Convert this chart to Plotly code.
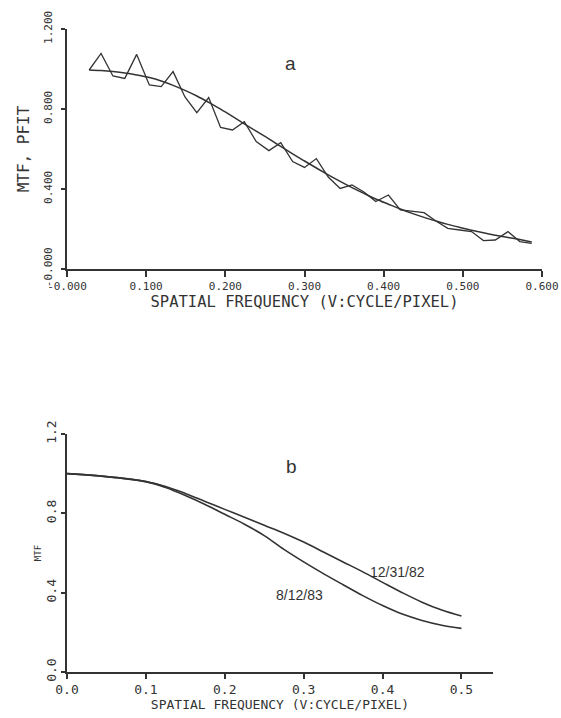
import plotly.graph_objects as go

# ---- Panel a data: measured MTF (noisy) and polynomial fit (PFIT)
freq_a = [0.028, 0.043, 0.058, 0.073, 0.088, 0.104, 0.119, 0.134, 0.149, 0.164,
          0.179, 0.194, 0.209, 0.224, 0.239, 0.255, 0.270, 0.285, 0.300, 0.315,
          0.330, 0.345, 0.360, 0.375, 0.390, 0.406, 0.421, 0.436, 0.451, 0.466,
          0.481, 0.496, 0.511, 0.526, 0.541, 0.557, 0.572, 0.587]
mtf_a = [0.995, 1.078, 0.965, 0.953, 1.073, 0.920, 0.912, 0.987, 0.860, 0.782,
         0.857, 0.708, 0.695, 0.737, 0.637, 0.592, 0.632, 0.537, 0.508, 0.552,
         0.460, 0.403, 0.420, 0.385, 0.337, 0.370, 0.295, 0.288, 0.282, 0.240,
         0.203, 0.195, 0.187, 0.142, 0.145, 0.187, 0.137, 0.128]
pfit_a = [0.995, 0.992, 0.987, 0.980, 0.970, 0.957, 0.940, 0.918, 0.893, 0.865,
          0.833, 0.799, 0.763, 0.726, 0.689, 0.651, 0.613, 0.576, 0.540, 0.505,
          0.471, 0.438, 0.407, 0.378, 0.350, 0.324, 0.300, 0.278, 0.258, 0.240,
          0.223, 0.208, 0.194, 0.181, 0.169, 0.158, 0.147, 0.135]

# ---- Panel b data: MTF curves for two dates
freq_b = [0.0, 0.05, 0.1, 0.125, 0.15, 0.175, 0.2, 0.225, 0.25, 0.275,
          0.3, 0.325, 0.35, 0.375, 0.4, 0.425, 0.45, 0.475, 0.5]
mtf_821231 = [1.0, 0.985, 0.96, 0.935, 0.90, 0.86, 0.82, 0.78, 0.74, 0.70,
              0.655, 0.605, 0.555, 0.505, 0.452, 0.400, 0.352, 0.312, 0.282]
mtf_830812 = [1.0, 0.985, 0.96, 0.930, 0.89, 0.845, 0.795, 0.745, 0.688, 0.618,
              0.555, 0.496, 0.440, 0.385, 0.335, 0.292, 0.260, 0.236, 0.220]

ticks_a_x = [0.0, 0.1, 0.2, 0.3, 0.4, 0.5, 0.6]
ticks_a_x_text = ["-0.000", "0.100", "0.200", "0.300", "0.400", "0.500", "0.600"]
ticks_a_y = [0.0, 0.4, 0.8, 1.2]
ticks_a_y_text = ["-0.000", "0.400", "0.800", "1.200"]
ticks_b_x = [0.0, 0.1, 0.2, 0.3, 0.4, 0.5]
ticks_b_x_text = ["0.0", "0.1", "0.2", "0.3", "0.4", "0.5"]
ticks_b_y = [0.0, 0.4, 0.8, 1.2]
ticks_b_y_text = ["0.0", "0.4", "0.8", "1.2"]

W, H = 561, 718
ML, MR, MT, MB = 67, 19, 29, 46
IW, IH = W - ML - MR, H - MT - MB
INK = "#333333"
MONO = "DejaVu Sans Mono"


def dx(p):
    return (p - ML) / IW


def dy(p):
    return (H - MB - p) / IH


fig = go.Figure()
fig.add_trace(go.Scatter(x=freq_a, y=mtf_a, mode="lines", name="MTF",
                         line=dict(color=INK, width=1.3), xaxis="x", yaxis="y"))
fig.add_trace(go.Scatter(x=freq_a, y=pfit_a, mode="lines", name="PFIT",
                         line=dict(color=INK, width=1.5, shape="spline"),
                         xaxis="x", yaxis="y"))
fig.add_trace(go.Scatter(x=freq_b, y=mtf_821231, mode="lines", name="12/31/82",
                         line=dict(color=INK, width=1.6, shape="spline"),
                         xaxis="x2", yaxis="y2"))
fig.add_trace(go.Scatter(x=freq_b, y=mtf_830812, mode="lines", name="8/12/83",
                         line=dict(color=INK, width=1.6, shape="spline"),
                         xaxis="x2", yaxis="y2"))

common = dict(showgrid=False, zeroline=False, showline=True, linecolor=INK,
              linewidth=1.5, ticks="outside", tickcolor=INK, tickwidth=1.5,
              automargin=False)

fig.update_layout(
    width=W, height=H, margin=dict(l=ML, r=MR, t=MT, b=MB, autoexpand=False),
    paper_bgcolor="white", plot_bgcolor="white", showlegend=False,
    xaxis=dict(domain=[dx(67), dx(542)], range=[0, 0.6], anchor="y",
               tickvals=ticks_a_x, ticktext=ticks_a_x_text, ticklen=6,
               tickfont=dict(family=MONO, size=11, color=INK),
               title=dict(text="SPATIAL FREQUENCY (V:CYCLE/PIXEL)", standoff=4,
                          font=dict(family=MONO, size=15.5, color=INK)),
               **common),
    yaxis=dict(domain=[dy(269), dy(29)], range=[0, 1.2], anchor="x",
               tickvals=ticks_a_y, ticktext=ticks_a_y_text, ticklen=4,
               tickangle=-90, ticklabelstandoff=5,
               tickfont=dict(family=MONO, size=11, color=INK),
               title=dict(text="MTF, PFIT", standoff=8,
                          font=dict(family=MONO, size=16, color=INK)),
               **common),
    xaxis2=dict(domain=[dx(67), dx(493)], range=[0, 0.54], anchor="y2",
                tickvals=ticks_b_x, ticktext=ticks_b_x_text, ticklen=5,
                tickfont=dict(family=MONO, size=13, color=INK),
                title=dict(text="SPATIAL FREQUENCY (V:CYCLE/PIXEL)", standoff=4,
                           font=dict(family=MONO, size=13, color=INK)),
                **common),
    yaxis2=dict(domain=[dy(672), dy(434)], range=[0, 1.2], anchor="x2",
                tickvals=ticks_b_y, ticktext=ticks_b_y_text, ticklen=4,
                tickangle=-90,
                tickfont=dict(family=MONO, size=13, color=INK),
                title=dict(text="MTF", standoff=1,
                           font=dict(family=MONO, size=9, color=INK)),
                **common),
    annotations=[
        dict(text="a", x=0.282, y=1.03, xref="x", yref="y", showarrow=False,
             font=dict(family="Liberation Sans", size=19, color=INK)),
        dict(text="b", x=0.285, y=1.034, xref="x2", yref="y2", showarrow=False,
             font=dict(family="Liberation Sans", size=19, color=INK)),
        dict(text="12/31/82", x=0.419, y=0.505, xref="x2", yref="y2",
             showarrow=False,
             font=dict(family="Liberation Sans", size=14, color=INK)),
        dict(text="8/12/83", x=0.295, y=0.388, xref="x2", yref="y2",
             showarrow=False,
             font=dict(family="Liberation Sans", size=14, color=INK)),
    ],
)

fig.write_html(
    "out.html",
    config={"displayModeBar": False},
    post_script="document.body.style.margin='0';"
                "document.body.style.overflow='hidden';",
)
